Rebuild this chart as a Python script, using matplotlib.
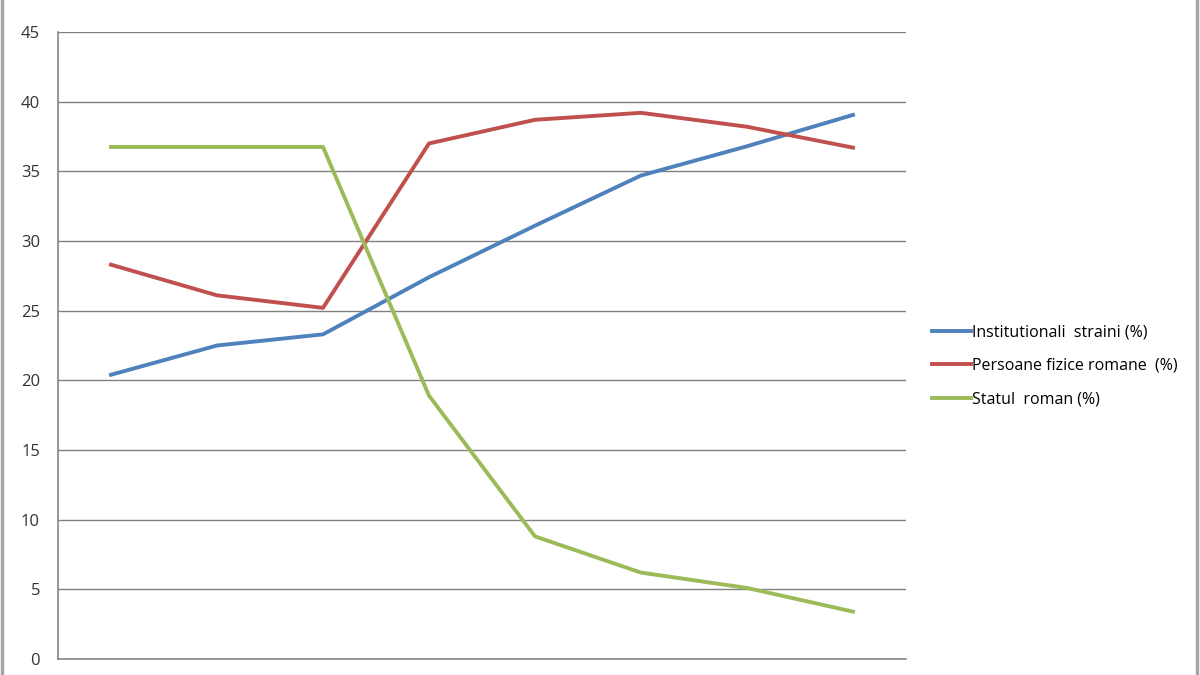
import matplotlib
matplotlib.use("Agg")
import matplotlib.pyplot as plt
from matplotlib.lines import Line2D

categories = ["1", "2", "3", "4", "5", "6", "7", "8"]
institutionali = [20.4, 22.5, 23.3, 27.4, 31.1, 34.7, 36.8, 39.05]
persoane = [28.3, 26.1, 25.2, 37.0, 38.7, 39.2, 38.2, 36.7]
statul = [36.75, 36.75, 36.75, 18.9, 8.8, 6.2, 5.1, 3.4]
series_names = ["Institutionali  straini (%)", "Persoane fizice romane  (%)", "Statul  roman (%)"]
colors = ["#4F81BD", "#C0504D", "#9BBB59"]
yticks = [0, 5, 10, 15, 20, 25, 30, 35, 40, 45]

plt.rcParams['font.family'] = ['Open Sans', 'DejaVu Sans']

fig = plt.figure(figsize=(12, 6.75), dpi=100)
ax = fig.add_axes([58/1200, 16/675, (906-58)/1200, (659-32)/675])

x = list(range(len(categories)))
for vals, c, name in zip([institutionali, persoane, statul], colors, series_names):
    ax.plot(x, vals, color=c, lw=2.8, label=name, solid_joinstyle='round', zorder=3)

ax.set_xlim(-0.5, len(categories) - 0.5)
ax.set_ylim(0, 45)
ax.set_yticks(yticks)
ax.set_yticklabels([str(v) for v in yticks], fontsize=12, color="#333333")
ax.set_xticks([])
ax.grid(axis='y', color="#808080", lw=1.0)
ax.set_axisbelow(True)
ax.tick_params(axis='y', length=0, pad=13)
for s in ['top', 'right']:
    ax.spines[s].set_visible(False)
for s in ['left', 'bottom']:
    ax.spines[s].set_color("#868686")
    ax.spines[s].set_linewidth(1.2)

handles = [Line2D([0], [0], color=c, lw=2.8) for c in colors]
leg = fig.legend(handles, series_names, loc='upper left', bbox_to_anchor=(926/1200, 1 - 318/675),
                 frameon=False, fontsize=11.5, handlelength=2.4, handletextpad=0.1,
                 labelspacing=1.1, borderaxespad=0)

# outer frame lines of the chart area
fig.add_artist(Line2D([2/1200, 2/1200], [0, 1], color="#A6A6A6", lw=2.5, transform=fig.transFigure))
fig.add_artist(Line2D([1197/1200, 1197/1200], [0, 1], color="#A6A6A6", lw=2.5, transform=fig.transFigure))

fig.savefig("out.png", dpi=100)
